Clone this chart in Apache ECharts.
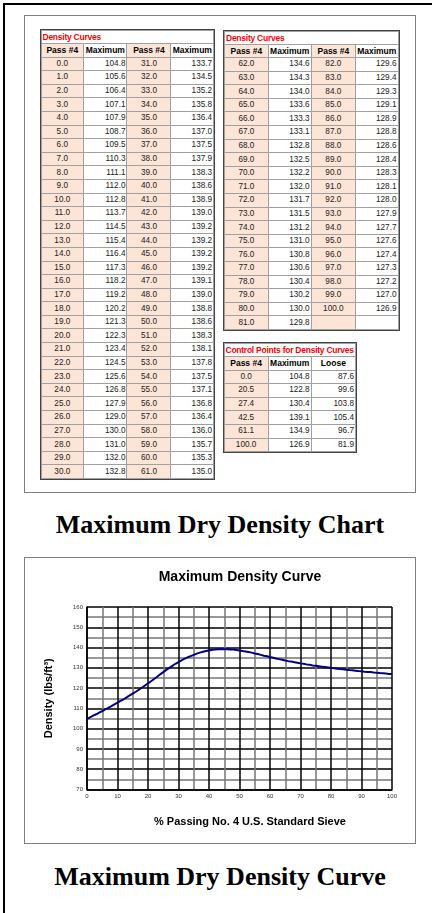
<!DOCTYPE html>
<html>
<head>
<meta charset="utf-8">
<script src="https://cdn.jsdelivr.net/npm/echarts@6/dist/echarts.min.js"></script>
<style>
  body { margin: 0; width: 432px; height: 913px; position: relative; background: #fff; overflow: hidden;
         font-family: 'Liberation Sans', Arial, sans-serif; }
  .frame-top { position: absolute; left: 3px; top: 3px; width: 429px; height: 2px; background: #000; }
  .frame-left { position: absolute; left: 3px; top: 3px; width: 2px; height: 910px; background: #000; }
  .box { position: absolute; left: 24px; width: 390px; border: 1px solid #808080; }
  #box1 { top: 15px; height: 476px; }
  #box2 { top: 557px; height: 285px; }
  .caption { position: absolute; left: 24px; width: 392px; text-align: center; color: #000;
             font-family: 'Liberation Serif', 'Times New Roman', serif; font-weight: bold;
             font-size: 26px; line-height: 26px; }
  table.dc { position: absolute; border-collapse: collapse; table-layout: fixed; font-size: 8.2px; color: #222;
             outline: 1px solid #444; }
  table.dc td { height: 13.6px; padding: 0 2px; border: 1px solid #a0a0a0; box-sizing: border-box;
                white-space: nowrap; overflow: hidden; line-height: 10px; }
  table.dc td.ttl { color: #ff0000; font-weight: bold; font-size: 8.5px; text-align: left; padding-left: 1px;
                    height: 13px; overflow: visible; letter-spacing: -0.25px; }
  table.dc td.hd { font-weight: bold; color: #000; text-align: center; font-size: 8.5px; padding: 0; }
  table.dc td.p { background: #fce4d6; text-align: center; }
  table.dc td.m { text-align: right; padding-right: 1px; }
  #curve { position: absolute; left: 25px; top: 558px; width: 389px; height: 284px; }
</style>
</head>
<body>
<div class="frame-top"></div>
<div class="frame-left"></div>
<div class="box" id="box1"></div>
<div class="box" id="box2"></div>
<div id="tables"></div>
<div class="caption" style="top:512px">Maximum Dry Density Chart</div>
<div id="curve"></div>
<div class="caption" style="top:864px">Maximum Dry Density Curve</div>

<script>
// % passing No. 4 sieve and maximum dry density (lbs/ft3)
var passing = [0, 1, 2, 3, 4, 5, 6, 7, 8, 9, 10, 11, 12, 13, 14, 15, 16, 17, 18, 19, 20,
  21, 22, 23, 24, 25, 26, 27, 28, 29, 30, 31, 32, 33, 34, 35, 36, 37, 38, 39, 40,
  41, 42, 43, 44, 45, 46, 47, 48, 49, 50, 51, 52, 53, 54, 55, 56, 57, 58, 59, 60,
  61, 62, 63, 64, 65, 66, 67, 68, 69, 70, 71, 72, 73, 74, 75, 76, 77, 78, 79, 80,
  81, 82, 83, 84, 85, 86, 87, 88, 89, 90, 91, 92, 93, 94, 95, 96, 97, 98, 99, 100];
var maximum = [104.8, 105.6, 106.4, 107.1, 107.9, 108.7, 109.5, 110.3, 111.1, 112.0,
  112.8, 113.7, 114.5, 115.4, 116.4, 117.3, 118.2, 119.2, 120.2, 121.3,
  122.3, 123.4, 124.5, 125.6, 126.8, 127.9, 129.0, 130.0, 131.0, 132.0,
  132.8, 133.7, 134.5, 135.2, 135.8, 136.4, 137.0, 137.5, 137.9, 138.3,
  138.6, 138.9, 139.0, 139.2, 139.2, 139.2, 139.2, 139.1, 139.0, 138.8,
  138.6, 138.3, 138.1, 137.8, 137.5, 137.1, 136.8, 136.4, 136.0, 135.7,
  135.3, 135.0, 134.6, 134.3, 134.0, 133.6, 133.3, 133.1, 132.8, 132.5,
  132.2, 132.0, 131.7, 131.5, 131.2, 131.0, 130.8, 130.6, 130.4, 130.2,
  130.0, 129.8, 129.6, 129.4, 129.3, 129.1, 128.9, 128.8, 128.6, 128.4,
  128.3, 128.1, 128.0, 127.9, 127.7, 127.6, 127.4, 127.3, 127.2, 127.0, 126.9];

// control points
var ctrlPass = [0.0, 20.5, 27.4, 42.5, 61.1, 100.0];
var ctrlMax = [104.8, 122.8, 130.4, 139.1, 134.9, 126.9];
var ctrlLoose = [87.6, 99.6, 103.8, 105.4, 96.7, 81.9];

var xTicks = [0, 10, 20, 30, 40, 50, 60, 70, 80, 90, 100];
var yTicks = [70, 80, 90, 100, 110, 120, 130, 140, 150, 160];

function f1(v) { return v === undefined ? '' : v.toFixed(1); }
function td(txt, cls, extra) { return '<td class="' + cls + '"' + (extra || '') + '>' + txt + '</td>'; }

function makeTable(left, top, widths, title, headers, rows) {
  var h = '<table class="dc" style="left:' + left + 'px;top:' + top + 'px;width:' +
    widths.reduce(function (a, b) { return a + b; }, 0) + 'px"><colgroup>';
  widths.forEach(function (w) { h += '<col style="width:' + w + 'px">'; });
  h += '</colgroup><tr>' + td(title, 'ttl', ' colspan="' + widths.length + '"') + '</tr><tr>';
  headers.forEach(function (t) { h += td(t, t === 'Pass #4' ? 'hd p' : 'hd'); });
  h += '</tr>';
  rows.forEach(function (r) {
    h += '<tr>';
    r.forEach(function (c, k) { h += td(c, headers[k] === 'Pass #4' ? 'p' : 'm'); });
    h += '</tr>';
  });
  return h + '</table>';
}

var hdr4 = ['Pass #4', 'Maximum', 'Pass #4', 'Maximum'];
var leftRows = [], rightRows = [], ctrlRows = [];
for (var i = 0; i <= 30; i++) {
  leftRows.push([f1(passing[i]), f1(maximum[i]), f1(passing[i + 31]), f1(maximum[i + 31])]);
}
for (var j = 0; j < 20; j++) {
  rightRows.push([f1(passing[62 + j]), f1(maximum[62 + j]), f1(passing[82 + j]), f1(maximum[82 + j])]);
}
for (var k = 0; k < ctrlPass.length; k++) {
  ctrlRows.push([f1(ctrlPass[k]), f1(ctrlMax[k]), f1(ctrlLoose[k])]);
}

document.getElementById('tables').innerHTML =
  makeTable(40.5, 30, [42.6, 43.4, 44, 42.6], 'Density Curves', hdr4, leftRows) +
  makeTable(224, 30.5, [43.7, 43, 44.3, 42.5], 'Density Curves', hdr4, rightRows) +
  makeTable(223.5, 343, [44.2, 43, 44.3], 'Control Points for Density Curves',
    ['Pass #4', 'Maximum', 'Loose'], ctrlRows);

var chart = echarts.init(document.getElementById('curve'));
var pts = passing.map(function (p, n) { return [p, maximum[n]]; });
var font = 'Liberation Sans';

chart.setOption({
  animation: false,
  title: {
    text: 'Maximum Density Curve',
    left: 215,
    textAlign: 'center',
    top: 12,
    padding: 0,
    textStyle: { fontFamily: font, fontSize: 14, fontWeight: 'bold', color: '#000' }
  },
  grid: { left: 62, right: 22, top: 49, bottom: 52.5 },
  xAxis: {
    type: 'value',
    min: xTicks[0],
    max: xTicks[xTicks.length - 1],
    interval: 10,
    name: '% Passing No. 4 U.S. Standard Sieve',
    nameLocation: 'middle',
    nameGap: 27,
    nameTextStyle: { fontFamily: font, fontSize: 11, fontWeight: 'bold', color: '#000', padding: [0, 0, 0, 21] },
    axisLine: { show: true, lineStyle: { color: '#000', width: 1.5 } },
    axisTick: { show: false },
    axisLabel: { fontFamily: font, fontSize: 6, color: '#333', margin: 4 },
    splitLine: { show: true, lineStyle: { color: '#000', width: 1.5 } },
    minorTick: { show: false, splitNumber: 2 },
    minorSplitLine: { show: true, lineStyle: { color: '#777', width: 1.5 } }
  },
  yAxis: {
    type: 'value',
    min: yTicks[0],
    max: yTicks[yTicks.length - 1],
    interval: 10,
    name: 'Density (lbs/ft³)',
    nameLocation: 'middle',
    nameGap: 33,
    nameTextStyle: { fontFamily: font, fontSize: 11, fontWeight: 'bold', color: '#000' },
    axisLine: { show: true, lineStyle: { color: '#000', width: 1.5 } },
    axisTick: { show: false },
    axisLabel: { fontFamily: font, fontSize: 6, color: '#333', margin: 4 },
    splitLine: { show: true, lineStyle: { color: '#000', width: 1.5 } },
    minorTick: { show: false, splitNumber: 2 },
    minorSplitLine: { show: true, lineStyle: { color: '#777', width: 1.5 } }
  },
  series: [{
    type: 'line',
    data: pts,
    showSymbol: false,
    lineStyle: { color: '#000080', width: 2 },
    itemStyle: { color: '#000080' }
  }]
});
</script>
</body>
</html>
